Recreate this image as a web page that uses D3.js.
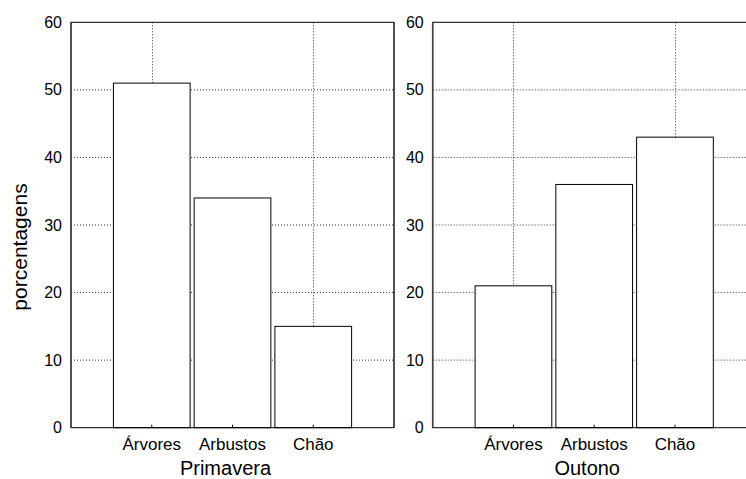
<!DOCTYPE html>
<html>
<head>
<meta charset="utf-8">
<script src="https://cdn.jsdelivr.net/npm/d3@7"></script>
<style>
  body { margin: 0; background: #fff; }
  svg { display: block; font-family: "Liberation Sans", Arial, sans-serif; }
</style>
</head>
<body>
<div id="chart-area"></div>
<script>
// data
var categories = ['Árvores', 'Arbustos', 'Chão'];
var primavera = [51, 34, 15];
var outono = [21, 36, 43];
var panelTitles = ['Primavera', 'Outono'];
var yTicks = [0, 10, 20, 30, 40, 50, 60];

var width = 746, height = 479;
var top0 = 22.3, bottom0 = 427.7;
var panelW = 323;
var panels = [
  { x0: 71, values: primavera, title: panelTitles[0] },
  { x0: 432.7, values: outono, title: panelTitles[1] }
];

var svg = d3.select('#chart-area').append('svg')
  .attr('width', width)
  .attr('height', height);

// y scale shared
var y = d3.scaleLinear()
  .domain([0, 60])
  .range([bottom0, top0]);

panels.forEach(function(p) {
  var g = svg.append('g');

  var x = d3.scalePoint()
    .domain(categories)
    .range([p.x0, p.x0 + panelW])
    .padding(1);
  var step = x.step();
  var barW = step * 0.95;

  // horizontal grid
  g.selectAll('.hgrid')
    .data(yTicks.filter(function(d) { return d > 0 && d < 60; }))
    .enter().append('line')
    .attr('x1', p.x0).attr('x2', p.x0 + panelW)
    .attr('y1', function(d) { return y(d); })
    .attr('y2', function(d) { return y(d); })
    .attr('stroke', '#333')
    .attr('stroke-width', 1)
    .attr('stroke-dasharray', '1,2');

  // vertical grid (every other category)
  g.selectAll('.vgrid')
    .data([categories[0], categories[2]])
    .enter().append('line')
    .attr('x1', function(d) { return Math.round(x(d)) + 0.5; })
    .attr('x2', function(d) { return Math.round(x(d)) + 0.5; })
    .attr('y1', top0).attr('y2', bottom0)
    .attr('stroke', '#333')
    .attr('stroke-width', 1)
    .attr('stroke-dasharray', '1,2');

  // bars
  g.selectAll('rect.bar')
    .data(p.values)
    .enter().append('rect')
    .attr('class', 'bar')
    .attr('x', function(d, i) { return x(categories[i]) - barW / 2; })
    .attr('width', barW)
    .attr('y', function(d) { return y(d); })
    .attr('height', function(d) { return bottom0 - y(d); })
    .attr('fill', '#fff')
    .attr('stroke', '#000')
    .attr('stroke-width', 1);

  // bottom tick marks
  g.selectAll('.xtick')
    .data(categories)
    .enter().append('line')
    .attr('x1', function(d) { return x(d); })
    .attr('x2', function(d) { return x(d); })
    .attr('y1', bottom0).attr('y2', bottom0 - 3)
    .attr('stroke', '#000');

  // frame
  g.append('rect')
    .attr('x', p.x0).attr('y', top0)
    .attr('width', panelW).attr('height', bottom0 - top0)
    .attr('fill', 'none')
    .attr('stroke', '#000')
    .attr('stroke-width', 1);
  g.append('line')
    .attr('x1', p.x0).attr('x2', p.x0)
    .attr('y1', top0).attr('y2', bottom0)
    .attr('stroke', '#444').attr('stroke-width', 1.6);
  g.append('line')
    .attr('x1', p.x0 + panelW).attr('x2', p.x0 + panelW)
    .attr('y1', top0).attr('y2', bottom0)
    .attr('stroke', '#444').attr('stroke-width', 1.6);

  // y axis labels
  var yAxisCall = d3.axisLeft(y)
    .tickValues(yTicks)
    .tickSize(0)
    .tickPadding(9);
  var ya = g.append('g')
    .attr('transform', 'translate(' + p.x0 + ',0)')
    .call(yAxisCall);
  ya.select('.domain').remove();
  ya.selectAll('text')
    .attr('font-size', '16px')
    .attr('font-family', '"Liberation Sans", Arial, sans-serif')
    .attr('fill', '#000');

  // category labels
  g.selectAll('.xlabel')
    .data(categories)
    .enter().append('text')
    .attr('x', function(d) { return x(d); })
    .attr('y', 450)
    .attr('text-anchor', 'middle')
    .attr('font-size', '17px')
    .text(function(d) { return d; });

  // panel title
  g.append('text')
    .attr('x', p.x0 + panelW / 2 - 7)
    .attr('y', 475)
    .attr('text-anchor', 'middle')
    .attr('font-size', '20px')
    .text(p.title);
});

// y title
svg.append('text')
  .attr('transform', 'translate(27,247) rotate(-90)')
  .attr('text-anchor', 'middle')
  .attr('font-size', '21px')
  .text('porcentagens');
</script>
</body>
</html>
